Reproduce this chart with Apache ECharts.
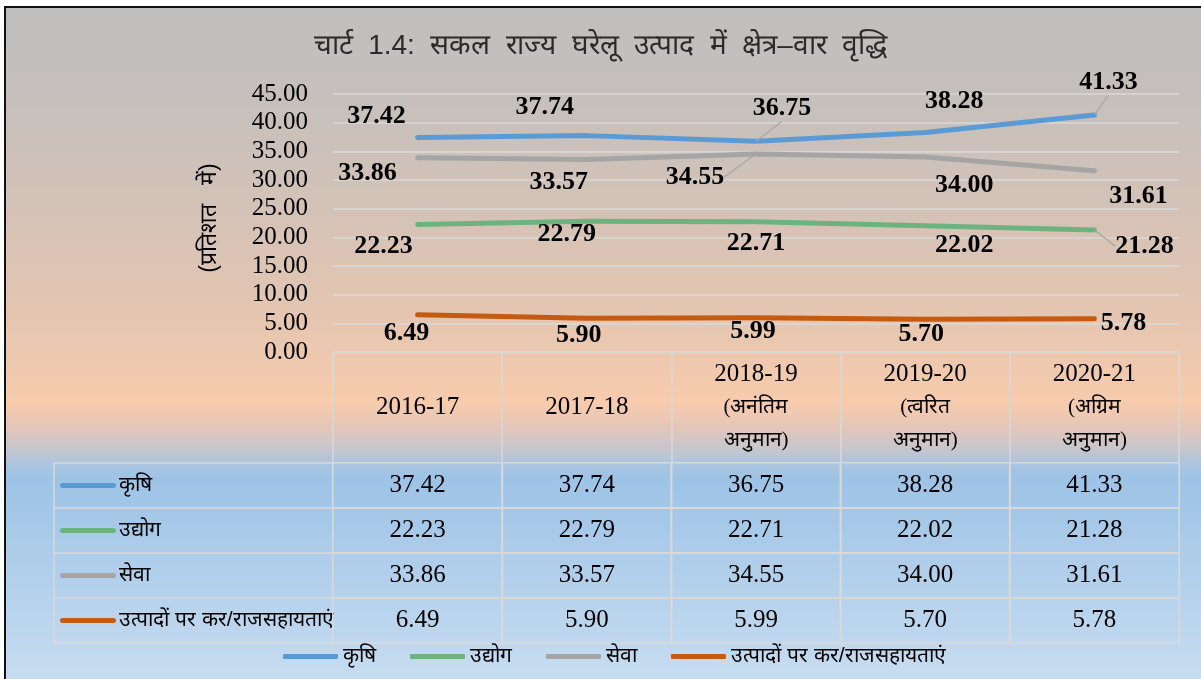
<!DOCTYPE html>
<html>
<head>
<meta charset="utf-8">
<script src="https://cdn.jsdelivr.net/npm/echarts@6/dist/echarts.min.js"></script>
<style>
  html, body { margin: 0; padding: 0; background: #fff; }
  #chart { width: 1201px; height: 679px; }
</style>
</head>
<body>
<div id="chart"></div>
<script>
// data
var categories = ['2016-17', '2017-18', '2018-19\n(अनंतिम\nअनुमान)', '2019-20\n(त्वरित\nअनुमान)', '2020-21\n(अग्रिम\nअनुमान)'];
var seriesNames = ['कृषि', 'उद्योग', 'सेवा', 'उत्पादों पर कर/राजसहायताएं'];
var krishi = [37.42, 37.74, 36.75, 38.28, 41.33];
var udyog = [22.23, 22.79, 22.71, 22.02, 21.28];
var seva = [33.86, 33.57, 34.55, 34.00, 31.61];
var kar = [6.49, 5.90, 5.99, 5.70, 5.78];

// where each data label sits relative to its point (px), and which ones get a leader line
var krishiOffsets = [[-41, -21], [-42, -28], [26, -33], [29, -31], [14, -33]];
var udyogOffsets = [[-34, 22], [-20, 13], [0, 21], [39, 20], [50, 16]];
var sevaOffsets = [[-50, 15], [-28, 23], [-61, 23], [39, 28], [44, 26]];
var karOffsets = [[-11, 18], [-8, 17], [-3, 14], [-4, 15], [29, 4]];
var krishiLeaders = [2, 4];
var udyogLeaders = [4];
var sevaLeaders = [2];
var karLeaders = [];

var colors = ['#5b9bd5', '#6db37f', '#a5a5a5', '#c55a11'];
var gridColor = '#d9d9d9';
var serif = '"Liberation Serif", "Times New Roman", serif';

var chart = echarts.init(document.getElementById('chart'));

function lineSeries(name, values, offsets, leaders, color) {
  return {
    name: name,
    type: 'line',
    xAxisIndex: 0,
    yAxisIndex: 0,
    data: values.map(function (v, i) {
      return { value: v, labelLine: { show: leaders.indexOf(i) >= 0 } };
    }),
    symbol: 'circle',
    symbolSize: 1,
    showSymbol: true,
    itemStyle: { color: color },
    lineStyle: { color: color, width: 5, cap: 'round', join: 'round' },
    label: {
      show: true,
      position: 'inside',
      formatter: function (p) { return p.value.toFixed(2); },
      fontFamily: serif,
      fontWeight: 'bold',
      fontSize: 26,
      color: '#000'
    },
    labelLine: { show: false, lineStyle: { color: '#a6a6a6', width: 1.2 } },
    labelLayout: function (p) {
      var o = offsets[p.dataIndex];
      return { dx: o[0], dy: o[1], hideOverlap: false };
    },
    emphasis: { disabled: true },
    z: 3
  };
}

var tableData = [];
[krishi, udyog, seva, kar].forEach(function (arr, row) {
  arr.forEach(function (v, col) { tableData.push([col, row, v]); });
});

var nameRich = { n: { fontSize: 21, color: '#000', padding: [0, 0, 0, 3] } };
colors.forEach(function (c, i) {
  nameRich['k' + i] = { width: 56, height: 5, backgroundColor: c, borderRadius: 2.5 };
});

chart.setOption({
  animation: false,
  color: colors,
  title: {
    text: 'चार्ट  1.4:  सकल  राज्य  घरेलू  उत्पाद  में  क्षेत्र–वार  वृद्धि',
    left: 'center',
    top: 27,
    textStyle: { fontSize: 28, fontWeight: 'normal', color: '#2b2b2b' }
  },
  graphic: [{
    type: 'rect',
    silent: true,
    z: -10,
    shape: { x: 5, y: 7, width: 1300, height: 700 },
    style: {
      stroke: '#111',
      lineWidth: 2,
      fill: new echarts.graphic.LinearGradient(0, 0, 0, 1, [
        { offset: 0, color: '#bfbfbf' },
        { offset: 0.14, color: '#c6c0bc' },
        { offset: 0.28, color: '#d3c2b7' },
        { offset: 0.42, color: '#e2c5b2' },
        { offset: 0.52, color: '#f0c9ae' },
        { offset: 0.565, color: '#f8cbac' },
        { offset: 0.6, color: '#e4c6b9' },
        { offset: 0.628, color: '#c9c6cb' },
        { offset: 0.655, color: '#a9c5e1' },
        { offset: 0.672, color: '#9dc3e6' },
        { offset: 1, color: '#cde0f2' }
      ])
    }
  }],
  legend: {
    data: seriesNames,
    left: 278,
    top: 641,
    icon: 'roundRect',
    itemWidth: 55,
    itemHeight: 5,
    itemGap: 34,
    textStyle: { fontSize: 21, color: '#000' }
  },
  grid: [
    { left: 333, right: 22, top: 94, height: 258 },
    { left: 333, right: 22, top: 463, height: 180 }
  ],
  xAxis: [{
    type: 'category',
    gridIndex: 0,
    data: categories,
    boundaryGap: true,
    axisLine: { lineStyle: { color: gridColor, width: 1.5 } },
    axisTick: { show: true, length: 111, lineStyle: { color: gridColor, width: 1.5 } },
    axisLabel: {
      interval: 0,
      margin: 55,
      verticalAlign: 'middle',
      lineHeight: 33,
      fontFamily: serif,
      fontSize: 25,
      color: '#000',
      formatter: function (v) {
        var parts = v.split('\n');
        return parts.map(function (s, i) { return i === 0 ? s : '{d|' + s + '}'; }).join('\n');
      },
      rich: { d: { fontSize: 21, lineHeight: 33, color: '#000' } }
    },
    splitLine: { show: false }
  }, {
    type: 'category',
    gridIndex: 1,
    data: categories,
    axisLine: { show: false },
    axisTick: { show: false },
    axisLabel: { show: false }
  }],
  yAxis: [{
    type: 'value',
    gridIndex: 0,
    min: 0,
    max: 45,
    interval: 5,
    name: '(प्रतिशत   में)',
    nameLocation: 'middle',
    nameGap: 112,
    nameRotate: 90,
    nameTextStyle: { fontSize: 23, color: '#000', padding: [0, 0, 0, 10] },
    axisLine: { show: false },
    axisTick: { show: false },
    axisLabel: {
      margin: 25,
      fontFamily: serif,
      fontSize: 25,
      color: '#000',
      formatter: function (v) { return v.toFixed(2); }
    },
    splitLine: { lineStyle: { color: gridColor, width: 1.5 } }
  }, {
    type: 'category',
    gridIndex: 1,
    data: seriesNames,
    inverse: true,
    axisLine: { show: false },
    axisTick: { show: true, length: 279, lineStyle: { color: gridColor, width: 1.5 } },
    axisLabel: {
      margin: 273,
      align: 'left',
      formatter: function (v, i) { return '{k' + i + '| }{n|' + v + '}'; },
      rich: nameRich
    }
  }, {
    type: 'category',
    gridIndex: 1,
    position: 'left',
    offset: 279,
    data: seriesNames,
    axisLine: { show: true, lineStyle: { color: gridColor, width: 1.5 } },
    axisTick: { show: false },
    axisLabel: { show: false }
  }],
  series: [
    lineSeries(seriesNames[0], krishi, krishiOffsets, krishiLeaders, colors[0]),
    lineSeries(seriesNames[1], udyog, udyogOffsets, udyogLeaders, colors[1]),
    lineSeries(seriesNames[2], seva, sevaOffsets, sevaLeaders, colors[2]),
    lineSeries(seriesNames[3], kar, karOffsets, karLeaders, colors[3]),
    {
      type: 'heatmap',
      xAxisIndex: 1,
      yAxisIndex: 1,
      data: tableData,
      itemStyle: { color: 'rgba(0,0,0,0)', borderColor: gridColor, borderWidth: 1.5 },
      label: {
        show: true,
        formatter: function (p) { return p.value[2].toFixed(2); },
        fontFamily: serif,
        fontSize: 25,
        color: '#000'
      },
      emphasis: { disabled: true }
    }
  ]
});
</script>
</body>
</html>
